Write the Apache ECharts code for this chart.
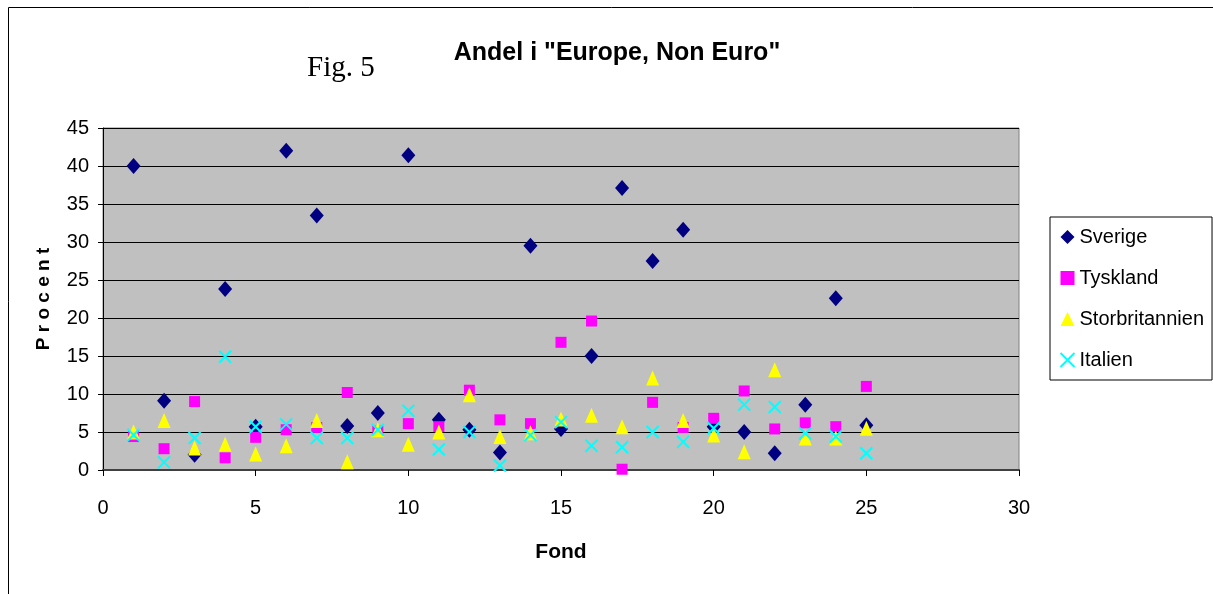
<!DOCTYPE html>
<html>
<head>
<meta charset="utf-8">
<script src="https://cdn.jsdelivr.net/npm/echarts@6/dist/echarts.min.js"></script>
<style>
html, body { margin: 0; padding: 0; background: #fff; }
#chart { width: 1213px; height: 594px; }
</style>
</head>
<body>
<div id="chart"></div>
<script>
// Andel i "Europe, Non Euro" - fond 1..25
var fond = [1,2,3,4,5,6,7,8,9,10,11,12,13,14,15,16,17,18,19,20,21,22,23,24,25];
var sverige = [40, 9.1, 2.0, 23.8, 5.7, 42, 33.5, 5.8, 7.5, 41.4, 6.6, 5.3, 2.3, 29.5, 5.4, 15, 37.1, 27.5, 31.6, 5.7, 5.0, 2.2, 8.6, 22.6, 5.9];
var tyskland = [4.4, 2.8, 9.0, 1.6, 4.3, 5.3, 5.6, 10.2, 5.1, 6.1, 5.7, 10.5, 6.6, 6.1, 16.8, 19.6, 0.1, 8.9, 5.6, 6.8, 10.4, 5.4, 6.2, 5.7, 11.0];
var storbritannien = [5.0, 6.5, 2.9, 3.4, 2.1, 3.2, 6.5, 1.1, 5.3, 3.4, 5.0, 9.9, 4.4, 4.9, 6.7, 7.2, 5.7, 12.1, 6.5, 4.6, 2.4, 13.2, 4.2, 4.2, 5.5];
var italien = [4.6, 1.0, 4.2, 14.9, 5.7, 6.0, 4.2, 4.2, 5.3, 7.8, 2.7, 5.0, 0.6, 4.6, 6.3, 3.2, 3.0, 5.0, 3.7, 5.5, 8.6, 8.3, 4.8, 4.4, 2.2];

function pairs(ys) {
    return fond.map(function (x, i) { return [x, ys[i]]; });
}

var crossPath = 'path://M0,0L10,10M10,0L0,10';

var chart = echarts.init(document.getElementById('chart'));
var option = {
    backgroundColor: '#fff',
    animation: false,
    title: {
        text: 'Andel i "Europe, Non Euro"',
        left: 612,
        top: 36,
        textAlign: 'center',
        textStyle: { fontFamily: 'Liberation Sans, Arial', fontSize: 25, fontWeight: 'bold', color: '#000' }
    },
    graphic: [
        { type: 'rect', shape: { x: 8.5, y: 7.5, width: 1230, height: 600 }, style: { fill: 'none', stroke: '#000', lineWidth: 1 }, silent: true },
        { type: 'text', left: 307, top: 54, style: { text: 'Fig. 5', font: '29px "Liberation Serif", "Times New Roman", serif', fill: '#000' } }
    ],
    legend: {
        orient: 'vertical',
        left: 1050,
        top: 217,
        width: 157,
        padding: [10, 8, 10, 8],
        itemGap: 21,
        itemWidth: 14,
        itemHeight: 14,
        borderColor: '#000',
        borderWidth: 1,
        backgroundColor: '#fff',
        textStyle: { fontFamily: 'Liberation Sans, Arial', fontSize: 20, color: '#000' },
        data: ['Sverige', 'Tyskland', 'Storbritannien', 'Italien']
    },
    grid: {
        left: 103,
        right: 194,
        top: 128,
        bottom: 124,
        show: true,
        backgroundColor: '#c0c0c0',
        borderColor: '#808080',
        borderWidth: 1
    },
    xAxis: {
        type: 'value',
        min: 0,
        max: 30,
        interval: 5,
        name: 'Fond',
        nameLocation: 'middle',
        nameGap: 72,
        nameTextStyle: { fontFamily: 'Liberation Sans, Arial', fontSize: 21, fontWeight: 'bold', color: '#000' },
        axisLine: { onZero: false, lineStyle: { color: '#404040', width: 2 } },
        axisTick: { show: true, length: 6, lineStyle: { color: '#000' } },
        axisLabel: { margin: 28, fontFamily: 'Liberation Sans, Arial', fontSize: 20, color: '#000' },
        splitLine: { show: false }
    },
    yAxis: {
        type: 'value',
        min: 0,
        max: 45,
        interval: 5,
        name: 'P r o c e n t',
        nameLocation: 'middle',
        nameGap: 50,
        nameTextStyle: { fontFamily: 'Liberation Sans, Arial', fontSize: 19, fontWeight: 'bold', color: '#000' },
        axisLine: { show: true, lineStyle: { color: '#000', width: 1 } },
        axisTick: { show: true, length: 5, lineStyle: { color: '#000' } },
        axisLabel: { margin: 14, fontFamily: 'Liberation Sans, Arial', fontSize: 20, color: '#000' },
        splitLine: { show: true, lineStyle: { color: '#000', width: 1 } }
    },
    series: [
        {
            name: 'Sverige',
            type: 'scatter',
            symbol: 'diamond',
            symbolSize: [14, 16],
            itemStyle: { color: '#000080', opacity: 1 },
            data: pairs(sverige)
        },
        {
            name: 'Tyskland',
            type: 'scatter',
            symbol: 'rect',
            symbolSize: 11,
            itemStyle: { color: '#ff00ff', opacity: 1 },
            data: pairs(tyskland)
        },
        {
            name: 'Storbritannien',
            type: 'scatter',
            symbol: 'triangle',
            symbolSize: [13, 15],
            itemStyle: { color: '#ffff00', opacity: 1 },
            data: pairs(storbritannien)
        },
        {
            name: 'Italien',
            type: 'scatter',
            symbol: crossPath,
            symbolSize: 12,
            itemStyle: { color: 'none', borderColor: '#00ffff', borderWidth: 2, opacity: 1 },
            data: pairs(italien)
        }
    ]
};
chart.setOption(option);
</script>
</body>
</html>
